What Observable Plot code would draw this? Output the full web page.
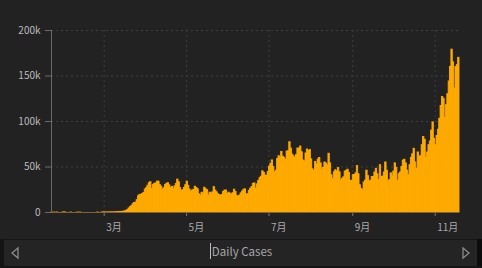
<!DOCTYPE html>
<html>
<head>
<meta charset="utf-8">
<script src="https://cdn.jsdelivr.net/npm/d3@7"></script>
<script src="https://cdn.jsdelivr.net/npm/@observablehq/plot@0.6"></script>
<style>
  html, body { margin: 0; padding: 0; background: #222; width: 482px; height: 268px; overflow: hidden; }
  #chart { position: absolute; left: 0; top: 0; }
  #panel { position: absolute; left: 0; top: 239px; width: 482px; height: 27px; background: #242424;
           border-top: 1px solid #161616; box-sizing: border-box; }
  #lstrip { position: absolute; left: 0; top: 239px; width: 4px; height: 29px; background: #141414; }
  #rstrip { position: absolute; left: 477px; top: 239px; width: 5px; height: 29px; background: #0c0c0c; }
  #bstrip { position: absolute; left: 0; top: 266px; width: 482px; height: 2px; background: #141414; }
  #label { position: absolute; left: 0; width: 482px; top: 243px; text-align: center;
           font-family: "Noto Sans CJK SC", "Noto Sans", sans-serif; font-size: 11.5px; color: #a8a8a8; }
  #label span { border-left: 1px solid #bbb; padding-left: 1px; }
  .arrow { position: absolute; top: 246px; }
</style>
</head>
<body>
<div id="chart"></div>
<div id="panel"></div>
<div id="lstrip"></div>
<div id="rstrip"></div>
<div id="bstrip"></div>
<svg class="arrow" style="left:10px" width="10" height="14"><polygon points="8,2 2,7 8,12" fill="none" stroke="#8a8a8a" stroke-width="1.3"/></svg>
<svg class="arrow" style="left:461px" width="10" height="14"><polygon points="2,2 8,7 2,12" fill="none" stroke="#8a8a8a" stroke-width="1.3"/></svg>
<div id="label"><span>Daily Cases</span></div>
<script>
// Daily new cases, starting 2020-01-22
const jan = [1,0,1,0,3,0,0,0,1,1];
const feb = [1,0,0,0,1,0,0,0,0,1,0,1,0,0,0,0,0,0,0,0,0,0,0,0,18,0,0,1,4];
const mar = [8,21,22,30,69,90,121,117,189,274,413,465,552,723,814,1265,1848,2637,4431,5831,6947,9106,10409,10789,13485,17733,19263,19536,20152,21460,25209];
const apr = [26819,29470,32212,33322,26058,30139,31441,31970,33931,33841,30074,28390,25255,26793,30137,31574,32217,29838,26946,28176,25839,28702,31425,36163,33260,26815,23787,24592,27000,30016];
const may = [33894,29288,25260,22593,24102,24920,28349,26916,25569,19937,18601,21735,20709,27231,25481,24447,18947,21807,20698,22127,27920,24131,22217,20018,18938,18624,19291,22517,24131,24105,20328];
const jun = [21773,20566,19827,21195,25079,22681,17922,17337,18667,21061,22908,24963,25461,19853,19932,23671,26125,27848,31479,31988,26163,30889,34813,37799,39328,45235,43581,40402,40491,44474];
const jul = [50358,53399,57236,49930,44088,45962,58942,61852,59855,66627,61352,60009,57854,66983,67223,77255,70181,63698,61689,59767,63022,70324,70122,72462,66218,57091,56178,64840,69245,67436,68605];
const aug = [58388,47500,45776,55540,53018,58234,59886,53912,46865,49017,54974,53688,51783,64582,54026,41000,36543,44170,46460,45000,48793,44193,35000,37000,38657,45000,45800,47000,43500,34500,35000];
const sep = [41000,41300,43000,51000,42000,30000,26000,24600,33000,35000,46000,40000,34000,35000,39000,39000,44000,48000,42000,35500,52000,39000,39500,44000,55000,46000,34000,35500,43000,39500];
const oct = [45000,54000,49000,35000,42000,44000,50000,57000,58000,54000,46000,41000,52000,60000,64000,70000,55000,48000,66000,61000,62000,74000,83000,80000,60000,66000,74000,78000,90000,99000,81000];
const nov = [74000,84000,91000,103000,117000,127000,125000,104000,118000,130000,144000,160000,179000,165000,136000,160000,162000,170000];

const yTicks = [0, 50000, 100000, 150000, 200000];
const yLabels = ["0", "50k", "100k", "150k", "200k"];
const monthTicks = [new Date(Date.UTC(2020,2,1)), new Date(Date.UTC(2020,4,1)), new Date(Date.UTC(2020,6,1)), new Date(Date.UTC(2020,8,1)), new Date(Date.UTC(2020,10,1))];
const monthLabels = ["3月", "5月", "7月", "9月", "11月"];

const values = [].concat(jan, feb, mar, apr, may, jun, jul, aug, sep, oct, nov);
const start = new Date(Date.UTC(2020,0,22));
const DAY = 86400000;
const data = values.map((v, i) => ({
  x1: new Date(start.getTime() + i * DAY),
  x2: new Date(start.getTime() + (i + 1) * DAY),
  value: v
}));
const end = new Date(start.getTime() + values.length * DAY);
const months = monthTicks.map((d, i) => ({date: d, label: monthLabels[i]}));

const chart = Plot.plot({
  width: 482,
  height: 238,
  marginLeft: 51,
  marginRight: 23,
  marginTop: 30,
  marginBottom: 26,
  style: {background: "#222", color: "#bcbcbc", fontFamily: "'Noto Sans CJK SC', 'Noto Sans', sans-serif", fontSize: "10px", overflow: "visible"},
  x: {type: "utc", domain: [start, end], axis: null},
  y: {domain: [0, 200000], ticks: yTicks, tickFormat: d => yLabels[yTicks.indexOf(d)], tickSize: 6, tickPadding: 5, label: null},
  marks: [
    Plot.ruleY(yTicks.filter(d => d > 0), {stroke: "#3e3e3e", strokeDasharray: "2,3"}),
    Plot.ruleX(monthTicks, {y1: 0, y2: 200000, stroke: "#3e3e3e", strokeDasharray: "2,3"}),
    Plot.ruleX(monthTicks, {y1: 0, y2: 0, insetBottom: -4, stroke: "#777"}),
    Plot.rectY(data, {x1: "x1", x2: "x2", y: "value", fill: "#ffab00", stroke: "#ffab00", strokeWidth: 0.9, inset: 0}),
    Plot.ruleY([0], {stroke: "#806436"}),
    Plot.ruleX([start], {y1: 0, y2: 200000, stroke: "#6a6a6a"}),
    Plot.text(months, {x: "date", y: () => 0, text: "label", dy: 15, dx: 2, textAnchor: "start", fill: "#ababab", fontSize: 10})
  ]
});
chart.querySelectorAll("g[aria-label='y-axis'] line, g[aria-label='y-axis tick'] path").forEach(el => el.setAttribute("stroke", "#6a6a6a"));
document.getElementById("chart").appendChild(chart);
</script>
</body>
</html>
